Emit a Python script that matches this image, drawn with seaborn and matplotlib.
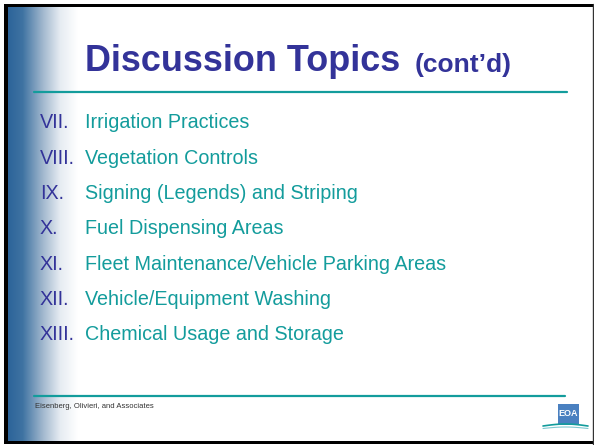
import numpy as np
import seaborn as sns
import matplotlib.pyplot as plt
from matplotlib.colors import LinearSegmentedColormap
from matplotlib.patches import Rectangle

# slide content
title = "Discussion Topics"
title_suffix = "(cont\u2019d)"
numerals = ["VII.", "VIII.", "IX.", "X.", "XI.", "XII.", "XIII."]
topics = ["Irrigation Practices",
          "Vegetation Controls",
          "Signing (Legends) and Striping",
          "Fuel Dispensing Areas",
          "Fleet Maintenance/Vehicle Parking Areas",
          "Vehicle/Equipment Washing",
          "Chemical Usage and Storage"]
footer = "Eisenberg, Olivieri, and Associates"

BLUE = "#333399"
TEAL = "#139c9c"

sns.set_style("white")
plt.rcParams['font.family'] = ['Liberation Sans', 'DejaVu Sans']

W, H = 594, 445
fig = plt.figure(figsize=(W / 100, H / 100), dpi=100)
ax = fig.add_axes([0, 0, 1, 1])
ax.set_xlim(0, W)
ax.set_ylim(H, 0)
ax.axis("off")

# left gradient band
cmap = LinearSegmentedColormap.from_list(
    "band", [(0, "#2b6399"), (0.22, "#3f73a2"), (0.5, "#9fb6cd"),
             (0.75, "#e6ecf2"), (1, "#ffffff")])
grad = np.linspace(0, 1, 256)[None, :]
ax.imshow(grad, cmap=cmap, aspect="auto", extent=[7, 78, 441, 7], zorder=0)

# frame
ax.add_patch(Rectangle((4, 4), 589, 3, color="black", lw=0, zorder=5))
ax.add_patch(Rectangle((4, 4), 3.5, 440, color="black", lw=0, zorder=5))
ax.add_patch(Rectangle((4, 441), 589, 3, color="black", lw=0, zorder=5))
ax.plot([592.5, 592.5], [4, 444], color="#333333", lw=1, zorder=5)

# title
t = ax.text(85, 71, title, color=BLUE, fontsize=25.9, fontweight="bold",
            va="baseline", ha="left")
fig.canvas.draw()
bb = t.get_window_extent()
ax.text(bb.x1 + 14, 72, title_suffix, color=BLUE, fontsize=19,
        fontweight="bold", va="baseline", ha="left")

# rules
ax.plot([34, 567], [92, 92], color=TEAL, lw=1.6, zorder=3)
ax.plot([34, 565], [396, 396], color=TEAL, lw=1.6, zorder=3)

# list
y0, step = 128.5, 35.3
for i, (num, topic) in enumerate(zip(numerals, topics)):
    y = y0 + i * step
    ax.text(40, y, num, color=BLUE, fontsize=14.2, va="baseline", ha="left")
    ax.text(85, y, topic, color=TEAL, fontsize=14.2, va="baseline", ha="left")

# footer
ax.text(35, 406, footer, color="#333333", fontsize=5.5, va="center", ha="left")

# logo
ax.add_patch(Rectangle((558, 404), 21, 21, color="#4a80c0", lw=0, zorder=4))
ax.text(568.5, 413, "EOA", color="white", fontsize=6.5, fontweight="bold",
        ha="center", va="center", zorder=6)
wx = np.linspace(543, 588, 40)
ax.plot(wx, 426 - 2 * np.sin((wx - 543) / 45 * np.pi), color=TEAL, lw=1.2, zorder=6)
ax.plot(wx, 428.5 - 1.5 * np.sin((wx - 543) / 45 * np.pi), color="#7fc8d0", lw=0.8, zorder=6)

fig.savefig("out.png", dpi=100)
